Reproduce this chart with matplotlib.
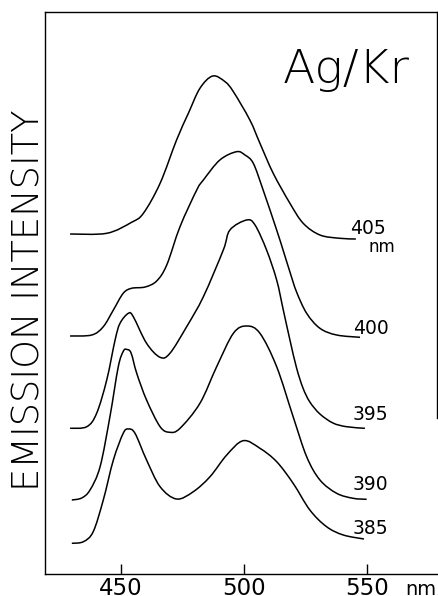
import matplotlib
matplotlib.use("Agg")
import matplotlib.pyplot as plt
from matplotlib.path import Path
from matplotlib.patches import PathPatch

# ---- data (wavelength in nm, emission intensity in arbitrary offset units) ----
wl_405 = [429.3, 444.2, 454.3, 459.1, 465.9, 472.6, 477.4, 482.1, 487.3, 492.3, 495.7,
          502.4, 506.5, 511.9, 518.7, 524.1, 530.9, 539.0, 545.5]
int_405 = [340, 340.7, 351.7, 360.7, 390.7, 434, 460.7, 485.7, 498, 492.3, 482.3,
           454, 430.7, 400.7, 370.7, 350.7, 339, 335.7, 335]

wl_400 = [429.3, 438.1, 442.8, 446.9, 450.9, 454.3, 459.8, 464.5, 468.6, 474.0, 480.8,
          483.5, 490.2, 497.0, 500.4, 503.8, 507.8, 513.3, 515.9, 518.7, 521.4, 525.5,
          530.9, 537.7, 547.2]
int_400 = [238, 239, 247.3, 264, 280.7, 285.7, 287, 293, 309, 347.3, 384,
           394, 414, 422.3, 419, 410.7, 384, 344, 324, 302, 282, 260.7,
           245.7, 239, 236.7]

wl_395 = [429.3, 436.1, 440.1, 444.2, 447.6, 449.6, 453.0, 455.0, 460.4, 465.9, 469.9,
          476.7, 483.5, 491.6, 494.3, 501.1, 504.5, 509.2, 513.3, 516.0, 518.7, 521.4,
          524.0, 526.8, 530.9, 536.2, 541.7, 549.2]
int_395 = [145.7, 147.3, 160.7, 194, 234, 250.7, 260.7, 257.3, 230.7, 216.7, 220.7,
           247.3, 277.3, 324, 344, 354, 349, 324, 294, 264, 234, 206,
           186, 172, 160, 151, 147.3, 145.7]

wl_390 = [430.0, 434.0, 437.4, 441.5, 445.5, 448.9, 451.0, 452.4, 454.1, 456.4, 460.4,
          465.9, 469.9, 474.0, 482.1, 488.9, 495.7, 501.1, 506.5, 513.3, 520.0, 525.5,
          530.9, 537.7, 544.4, 549.9]
int_390 = [74, 76, 84, 107.3, 157.3, 207.3, 223, 224.5, 221, 200.7, 174,
           147.3, 141.7, 145.7, 170.7, 207.3, 240.7, 248, 240.7, 207.3, 157.3, 117.3,
           94, 80.7, 75.7, 74.7]

wl_385 = [430.0, 434.7, 438.7, 442.8, 446.9, 450.9, 453.0, 455.7, 460.4, 465.9, 472.6,
          479.4, 486.2, 493.0, 499.7, 506.5, 513.3, 520.0, 526.8, 533.6, 540.4, 548.8]
int_385 = [30.7, 32.3, 42.3, 74, 114, 140.7, 145, 140.7, 114, 87.3, 75,
           82.3, 97.3, 119, 133.3, 125.7, 112.3, 90.7, 64, 47.3, 39, 35]

curve_labels = ["405", "400", "395", "390", "385"]
label_x = [543.1, 544.3, 544.3, 544.3, 544.3]
label_y = [345, 246, 159, 89, 46]

x_ticks = [450, 500, 550]
x_ticklabels = ["450", "500", "550"]


def smooth_path(xs, ys):
    """Catmull-Rom curve through the read points, drawn as cubic Bezier segments."""
    pts = list(zip(xs, ys))
    verts = [pts[0]]
    codes = [Path.MOVETO]
    n = len(pts)
    for i in range(n - 1):
        p0 = pts[i - 1] if i > 0 else pts[i]
        p1 = pts[i]
        p2 = pts[i + 1]
        p3 = pts[i + 2] if i + 2 < n else pts[i + 1]
        c1 = (p1[0] + (p2[0] - p0[0]) / 6.0, p1[1] + (p2[1] - p0[1]) / 6.0)
        c2 = (p2[0] - (p3[0] - p1[0]) / 6.0, p2[1] - (p3[1] - p1[1]) / 6.0)
        verts += [c1, c2, p2]
        codes += [Path.CURVE4, Path.CURVE4, Path.CURVE4]
    return Path(verts, codes)


# ---- figure ----
W, H = 439, 596
fig = plt.figure(figsize=(W / 100, H / 100), dpi=100)
ax = fig.add_axes([45 / W, 1 - 574 / H, 392 / W, (574 - 12) / H])
ax.set_xlim(419.1, 578.5)
ax.set_ylim(0, 562)

series = [(wl_405, int_405), (wl_400, int_400), (wl_395, int_395),
          (wl_390, int_390), (wl_385, int_385)]
for wl, it in series:
    ax.add_patch(PathPatch(smooth_path(wl, it), facecolor="none",
                           edgecolor="black", lw=1.1, joinstyle="round"))

for lab, lx, ly in zip(curve_labels, label_x, label_y):
    ax.text(lx, ly, lab, fontsize=13.5, ha="left", va="center", color="black")
ax.text(550.5, 327, "nm", fontsize=12, ha="left", va="center", color="black")

ax.text(515.9, 491, "Ag/Kr", fontsize=34, fontweight="light", ha="left",
        va="baseline", color="black")

ax.set_xticks(x_ticks)
ax.set_xticklabels(x_ticklabels)
ax.tick_params(axis="x", direction="in", length=7, width=1.0, pad=2.5,
               labelsize=16.5, top=False)
ax.set_yticks([])
for s in ax.spines.values():
    s.set_linewidth(1.0)
ax.spines["right"].set_bounds(156, 562)

ax.text(565.5, -21, "nm", fontsize=14, ha="left", va="baseline", clip_on=False)

fig.text(29 / W, 1 - 300 / H, "EMISSION INTENSITY", rotation=90, fontsize=26.5,
         fontweight="light", ha="center", va="center")

fig.savefig("out.png", dpi=100)
